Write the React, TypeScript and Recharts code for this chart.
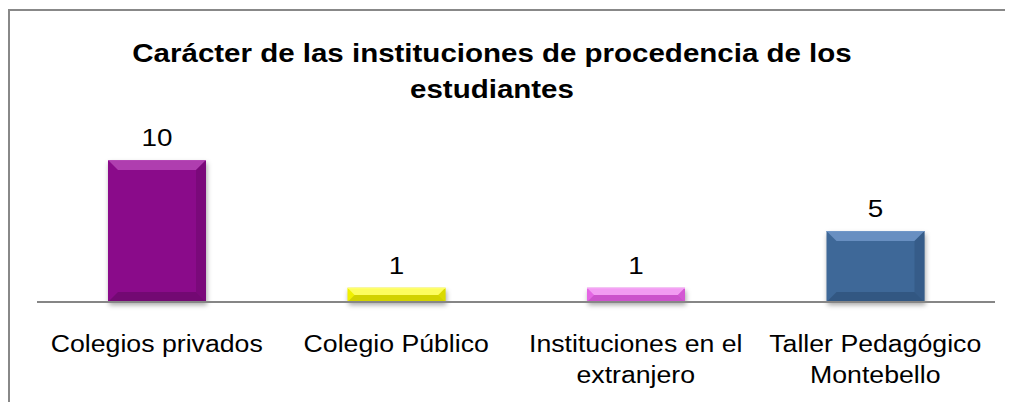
import React from 'react';
import { BarChart, Bar, XAxis, YAxis, LabelList } from 'recharts';

const categories = [
  'Colegios privados',
  'Colegio Público',
  'Instituciones en el\nextranjero',
  'Taller Pedagógico\nMontebello',
];
const values = [10, 1, 1, 5];
const titleLines = ['Carácter de las instituciones de procedencia de los', 'estudiantes'];
const yTicks = [0, 10];

const data = categories.map((name, i) => ({ name, value: values[i] }));

// main / light / dark per bar
const palette = [
  { main: '#8a0b8a', light: '#b548b5', dark: '#6a086a' },
  { main: '#f0f000', light: '#ffff70', dark: '#c4c400' },
  { main: '#e466e4', light: '#f5a6f5', dark: '#c24cc2' },
  { main: '#3e6898', light: '#7097c8', dark: '#2d5079' },
];

const FONT = "Arial, 'Liberation Sans', sans-serif";
const SX = 1.16; // text in the source is stretched horizontally

const BevelBar = (props: any) => {
  const { x, y, width, height, index } = props;
  if (!height || height <= 0) return null;
  const c = palette[index % palette.length];
  const b = Math.min(10, height / 2, width / 2);
  const id = `blur${index}`;
  return (
    <g>
      <defs>
        <filter id={id} x="-20%" y="-20%" width="140%" height="160%">
          <feGaussianBlur stdDeviation="2.5" />
        </filter>
      </defs>
      <rect x={x + 1} y={y + 3} width={width} height={height} fill="rgba(0,0,0,0.35)" filter={`url(#${id})`} />
      <rect x={x} y={y} width={width} height={height} fill={c.main} />
      {/* top bevel */}
      <polygon points={`${x},${y} ${x + width},${y} ${x + width - b},${y + b} ${x + b},${y + b}`} fill={c.light} opacity={0.85} />
      {/* right bevel */}
      <polygon
        points={`${x + width},${y} ${x + width - b},${y + b} ${x + width - b},${y + height - b} ${x + width},${y + height}`}
        fill={c.dark}
        opacity={0.5}
      />
      {/* bottom bevel */}
      <polygon
        points={`${x},${y + height} ${x + b},${y + height - b} ${x + width - b},${y + height - b} ${x + width},${y + height}`}
        fill={c.dark}
        opacity={0.7}
      />
      <line x1={x} y1={y + 0.5} x2={x + width} y2={y + 0.5} stroke={c.light} strokeWidth={1} />
    </g>
  );
};

const CatTick = (props: any) => {
  const { x, y, payload } = props;
  const lines = String(payload.value).split('\n');
  return (
    <g>
      {lines.map((ln, i) => (
        <text
          key={i}
          transform={`translate(${x},${y + 49.5 + i * 31}) scale(${SX},1)`}
          textAnchor="middle"
          fontFamily={FONT}
          fontSize={23}
          fill="#000"
        >
          {ln}
        </text>
      ))}
    </g>
  );
};

const ValueLabel = (props: any) => {
  const { x, y, width, value } = props;
  return (
    <text
      transform={`translate(${x + width / 2},${y - 14}) scale(${SX},1)`}
      textAnchor="middle"
      fontFamily={FONT}
      fontSize={24}
      fill="#000"
    >
      {value}
    </text>
  );
};

export default function App() {
  return (
    <div style={{ position: 'relative', width: 1005, height: 394, background: '#fff' }}>
      <svg style={{ position: 'absolute', left: 0, top: 0 }} width={1005} height={394}>
        <path d="M1,394 L1,2 L1005,2" fill="none" stroke="#888" strokeWidth={2} />
        {titleLines.map((t, i) => (
          <text
            key={i}
            transform={`translate(484,${54 + i * 36}) scale(1.18,1)`}
            textAnchor="middle"
            fontFamily={FONT}
            fontWeight="bold"
            fontSize={25}
            fill="#000"
          >
            {t}
          </text>
        ))}
      </svg>
      <div style={{ position: 'absolute', left: 0, top: 0 }}>
        <BarChart width={997} height={394} data={data} margin={{ top: 152, right: 10, bottom: 0, left: 29 }}>
          <YAxis hide domain={[0, 10]} ticks={yTicks} width={0} />
          <XAxis
            dataKey="name"
            height={100}
            interval={0}
            tickLine={false}
            tickSize={0}
            tickMargin={0}
            axisLine={{ stroke: '#868686', strokeWidth: 2 }}
            tick={<CatTick />}
          />
          <Bar dataKey="value" barSize={98} shape={<BevelBar />} isAnimationActive={false}>
            <LabelList dataKey="value" content={<ValueLabel />} />
          </Bar>
        </BarChart>
      </div>
    </div>
  );
}
